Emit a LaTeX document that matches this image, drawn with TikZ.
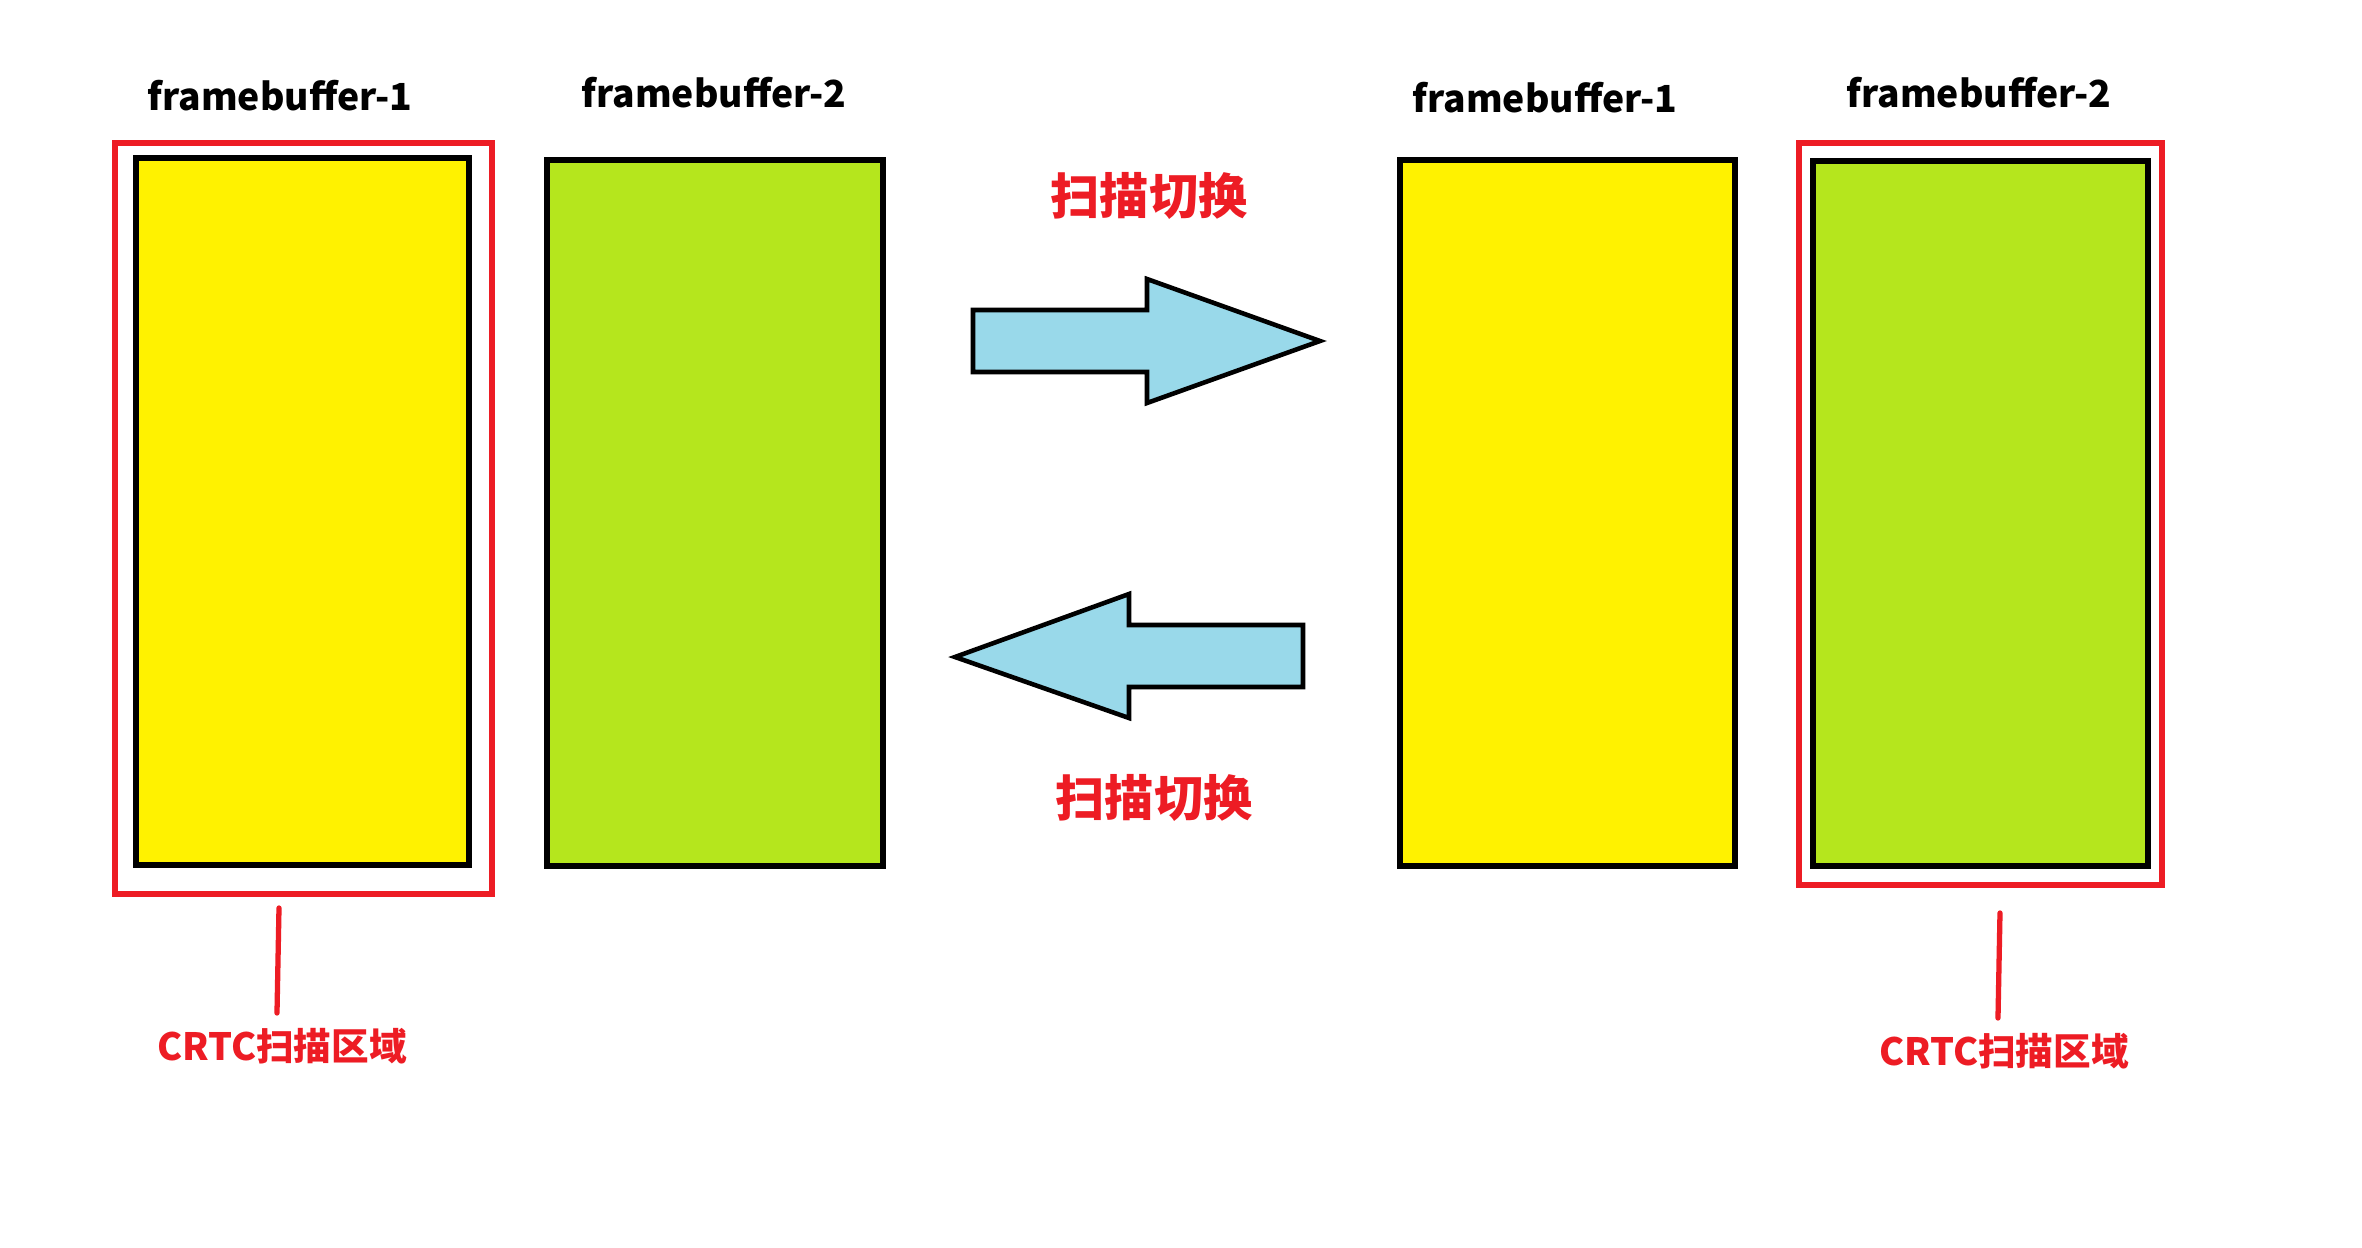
\documentclass[tikz,border=0pt]{standalone}
\usepackage{fontspec}
\newfontfamily\cjk{Noto Sans CJK SC}
\usetikzlibrary{fit,calc}
\definecolor{pyellow}{HTML}{FFF200}
\definecolor{plime}{HTML}{B5E61D}
\definecolor{pblue}{HTML}{99D9EA}
\definecolor{pred}{HTML}{ED1C24}
\begin{document}
\begin{tikzpicture}[x=0.01cm,y=-0.01cm,
 fbbox/.style={draw=black, line width=1.6pt, inner sep=0pt},
 scanbox/.style={draw=pred, line width=1.5pt, inner sep=0pt},
 fblabel/.style={font=\cjk\bfseries\fontsize{10.6pt}{12pt}\selectfont, inner sep=0pt},
 switchlabel/.style={text=pred, font=\cjk\bfseries\fontsize{14pt}{16pt}\selectfont, inner sep=0pt},
 crtclabel/.style={text=pred, font=\cjk\bfseries\fontsize{10.7pt}{12pt}\selectfont, inner sep=0pt},
 bigarrow/.style={draw=black, fill=pblue, line width=1.3pt, line join=miter},
 redline/.style={draw=pred, line width=1.5pt, line cap=round}]
\useasboundingbox[fill=white] (0,0) rectangle (2362,1248);

% left pair
\node[scanbox, fit={(115,143) (492,894)}] (scanA) {};
\node[fbbox, fill=pyellow, fit={(136,158) (469,865)}] (fbA1) {};
\node[fbbox, fill=plime, fit={(547,160) (883,866)}] (fbA2) {};
\node[fblabel] (lblA1) at (280,96) {framebuffer-1};
\node[fblabel] (lblA2) at (714,92.5) {framebuffer-2};

% right pair
\node[fbbox, fill=pyellow, fit={(1400,160) (1735,866)}] (fbB1) {};
\node[scanbox, fit={(1799,143) (2162,885)}] (scanB) {};
\node[fbbox, fill=plime, fit={(1813,161) (2148,866)}] (fbB2) {};
\node[fblabel] (lblB1) at (1545,97.5) {framebuffer-1};
\node[fblabel] (lblB2) at (1979,93) {framebuffer-2};

% switch arrows
\draw[bigarrow] (973,310) -- (1147,310) -- (1147,279) -- (1320,341) -- (1147,403) -- (1147,372) -- (973,372) -- cycle;
\draw[bigarrow] (1303,625) -- (1129,625) -- (1129,594) -- (955,657) -- (1129,718) -- (1129,687) -- (1303,687) -- cycle;
\node[switchlabel] (swTop) at (1149,196) {扫描切换};
\node[switchlabel] (swBot) at (1154,798) {扫描切换};

% CRTC labels
\node[crtclabel] (crtcA) at (282,1046) {CRTC扫描区域};
\node[crtclabel] (crtcB) at (2004,1051) {CRTC扫描区域};
\coordinate (la1) at (279,908);
\coordinate (la2) at (277,1013);
\coordinate (lb1) at (2000,913);
\coordinate (lb2) at (1998,1018);
\draw[redline] (la1) -- (la2);
\draw[redline] (lb1) -- (lb2);
\end{tikzpicture}
\end{document}
